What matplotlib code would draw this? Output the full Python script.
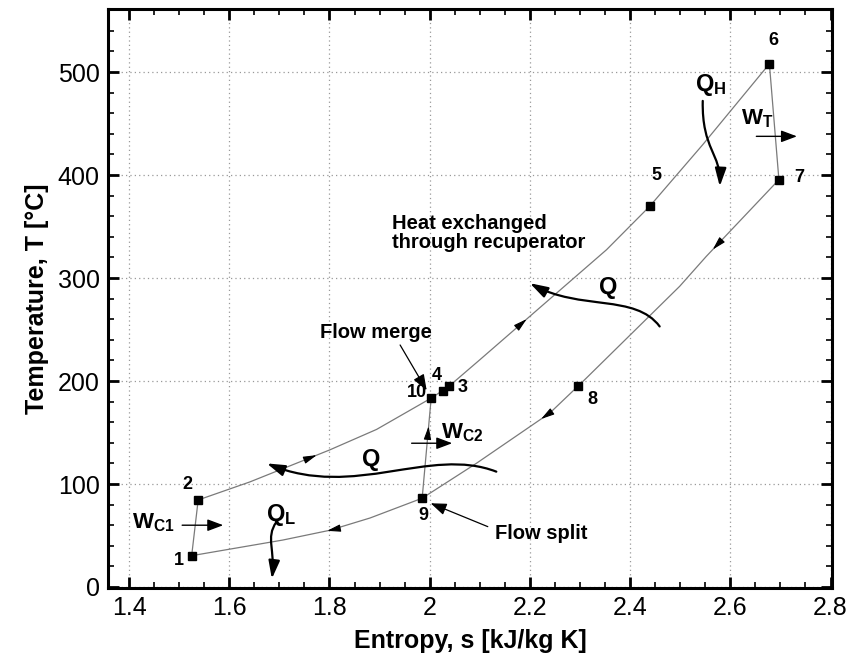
import numpy as np
import matplotlib
matplotlib.use('Agg')
import matplotlib.pyplot as plt
from matplotlib.path import Path
from matplotlib.patches import FancyArrowPatch
from matplotlib.ticker import MultipleLocator

plt.rcParams['font.family'] = ['Liberation Sans', 'DejaVu Sans']
plt.rcParams['mathtext.fontset'] = 'custom'
plt.rcParams['mathtext.rm'] = 'Liberation Sans'
plt.rcParams['mathtext.bf'] = 'Liberation Sans:bold'

# ---- data: state points 1..10 ----
state_labels = ['1', '2', '3', '4', '5', '6', '7', '8', '9', '10']
state_s = [1.525, 1.538, 2.038, 2.026, 2.439, 2.678, 2.697, 2.296, 1.985, 2.003]
state_T = [30.4, 84.5, 194.7, 190.8, 369.6, 508.0, 395.5, 195.0, 86.2, 183.4]

# main compressor 1 -> 2
comp1_s = [1.525, 1.538]
comp1_T = [30.4, 84.5]
# high-pressure, low-temperature recuperator 2 -> 10
hp_low_s = [1.538, 1.641, 1.800, 1.894, 2.003]
hp_low_T = [84.5, 102.0, 133.0, 153.0, 183.4]
# high-pressure 10 -> 4 -> 3 -> 5 -> 6
hp_high_s = [2.003, 2.026, 2.038, 2.100, 2.353, 2.439, 2.545, 2.678]
hp_high_T = [183.4, 190.8, 194.7, 220.6, 327.5, 369.6, 429.5, 508.0]
# turbine 6 -> 7
turb_s = [2.678, 2.697]
turb_T = [508.0, 395.5]
# low-pressure 7 -> 8 -> 9 -> 1
lp_s = [2.697, 2.552, 2.499, 2.313, 2.296, 2.240, 2.093, 1.985, 1.881, 1.800, 1.707, 1.525]
lp_T = [395.5, 321.0, 292.0, 203.0, 195.0, 169.0, 120.0, 86.2, 67.0, 55.0, 45.6, 30.4]
# re-compressor 9 -> 10
comp2_s = [1.985, 2.003]
comp2_T = [86.2, 183.4]

x_ticks = [1.4, 1.6, 1.8, 2.0, 2.2, 2.4, 2.6, 2.8]
x_ticklabels = ['1.4', '1.6', '1.8', '2', '2.2', '2.4', '2.6', '2.8']
y_ticks = [0, 100, 200, 300, 400, 500]

fig = plt.figure(figsize=(8.53, 6.61), dpi=100)
ax = fig.add_axes([0.1266, 0.1104, 0.8488, 0.8756])
ax.set_xlim(1.358, 2.803)
ax.set_ylim(-1, 561)

line_kw = dict(color='#7a7a7a', lw=0.9, zorder=3)
curves = [(comp1_s, comp1_T), (hp_low_s, hp_low_T), (hp_high_s, hp_high_T),
          (turb_s, turb_T), (lp_s, lp_T), (comp2_s, comp2_T)]
for cs, cT in curves:
    ax.plot(cs, cT, **line_kw)

ax.plot(state_s, state_T, ls='none', marker='s', ms=5.5, color='black', zorder=5)

# direction arrowheads along the curves: (curve, segment index, fraction)
arrow_marks = [(1, 1, 0.84), (2, 3, 0.37), (4, 0, 0.91), (4, 5, 0.12), (4, 9, 0.05), (5, 0, 0.72)]
fig.canvas.draw()
for ci, si, fr in arrow_marks:
    cs, cT = curves[ci]
    p0 = np.array([cs[si], cT[si]])
    p1 = np.array([cs[si + 1], cT[si + 1]])
    pm = p0 + fr * (p1 - p0)
    d0 = ax.transData.transform(p0)
    d1 = ax.transData.transform(p1)
    v = (d1 - d0) / np.hypot(*(d1 - d0))
    ax.annotate('', xy=tuple(pm), xytext=(-v[0] * 7, -v[1] * 7), textcoords='offset points',
                arrowprops=dict(arrowstyle='-|>,head_length=0.8,head_width=0.22',
                                color='black', lw=0.8, shrinkA=0, shrinkB=0), zorder=6)

# state labels
label_pos = {'1': (1.499, 26), '2': (1.517, 100), '3': (2.066, 194), '4': (2.014, 205),
             '5': (2.452, 400), '6': (2.686, 531), '7': (2.738, 398), '8': (2.325, 182),
             '9': (1.987, 69), '10': (1.974, 189)}
for lbl in state_labels:
    x, y = label_pos[lbl]
    ax.text(x, y, lbl, ha='center', va='center', fontsize=13, fontweight='bold', zorder=7)


def curved_arrow(pts, lw=1.6):
    verts = [tuple(p) for p in pts]
    codes = [Path.MOVETO, Path.CURVE4, Path.CURVE4, Path.CURVE4]
    pa = FancyArrowPatch(path=Path(verts, codes), arrowstyle='-|>,head_length=0.9,head_width=0.28',
                         mutation_scale=12, color='black', lw=lw, transform=ax.transData, zorder=6)
    ax.add_patch(pa)


def straight_arrow(p_from, p_to, lw=1.0):
    ax.annotate('', xy=p_to, xytext=p_from,
                arrowprops=dict(arrowstyle='-|>,head_length=0.8,head_width=0.3', color='black',
                                lw=lw, shrinkA=0, shrinkB=0, mutation_scale=12), zorder=6)


# heat-transfer arrows
curved_arrow([(2.459, 253), (2.41, 285), (2.30, 268), (2.20, 295)])          # upper Q
curved_arrow([(2.133, 112), (2.00, 137), (1.85, 85), (1.675, 120)])          # lower Q
curved_arrow([(2.545, 472), (2.543, 425), (2.582, 420), (2.579, 389)])       # Q_H
curved_arrow([(1.694, 63), (1.672, 48), (1.692, 35), (1.685, 8)])            # Q_L

# work arrows
straight_arrow((1.506, 60), (1.588, 60))
straight_arrow((1.964, 139.6), (2.045, 139.6))
straight_arrow((2.652, 437.6), (2.733, 437.6))
# flow merge / split pointers
straight_arrow((1.941, 235), (1.994, 191), lw=0.9)
straight_arrow((2.116, 58.6), (2.002, 81.3), lw=0.9)

bold = dict(fontweight='bold', zorder=7)
ax.text(1.924, 344, 'Heat exchanged\nthrough recuperator', fontsize=14.5, ha='left', va='center',
        linespacing=1.0, **bold)
ax.text(1.893, 247, 'Flow merge', fontsize=14.5, ha='center', va='center', **bold)
ax.text(2.222, 52, 'Flow split', fontsize=14.5, ha='center', va='center', **bold)
ax.text(2.356, 291, 'Q', fontsize=17, ha='center', va='center', **bold)
ax.text(1.884, 124, 'Q', fontsize=17, ha='center', va='center', **bold)
ax.text(2.530, 487, r'$\mathbf{Q_H}$', fontsize=17, ha='left', va='center', zorder=7)
ax.text(1.674, 70, r'$\mathbf{Q_L}$', fontsize=17, ha='left', va='center', zorder=7)
ax.text(1.492, 62, r'$\mathbf{W_{C1}}$', fontsize=16, ha='right', va='center', zorder=7)
ax.text(2.022, 150, r'$\mathbf{W_{C2}}$', fontsize=16, ha='left', va='center', zorder=7)
ax.text(2.622, 455, r'$\mathbf{W_T}$', fontsize=16, ha='left', va='center', zorder=7)

# axes styling
ax.set_xticks(x_ticks)
ax.set_xticklabels(x_ticklabels)
ax.set_yticks(y_ticks)
ax.xaxis.set_minor_locator(MultipleLocator(0.05))
ax.yaxis.set_minor_locator(MultipleLocator(20))
ax.tick_params(which='both', direction='in', top=True, right=True)
ax.tick_params(which='major', length=8, width=2, labelsize=18, pad=6)
ax.tick_params(which='minor', length=4, width=1.2)
for sp in ax.spines.values():
    sp.set_linewidth(2.2)
ax.grid(True, which='major', ls=(0, (1, 2.5)), color='#999999', lw=0.9)
ax.set_axisbelow(True)

ax.set_xlabel('Entropy, s [kJ/kg K]', fontsize=18, fontweight='bold', labelpad=6)
ax.set_ylabel('Temperature, T [°C]', fontsize=18, fontweight='bold', labelpad=6)

fig.savefig('out.png', dpi=100)
